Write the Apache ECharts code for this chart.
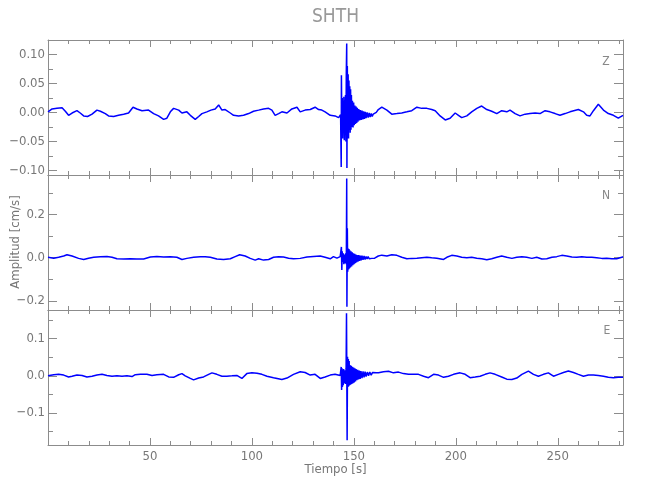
<!DOCTYPE html>
<html><head><meta charset="utf-8">
<script src="https://cdn.jsdelivr.net/npm/echarts@6/dist/echarts.min.js"></script>
<style>html,body{margin:0;padding:0;background:#fff}#c{width:650px;height:500px}</style>
</head><body><div id="c"></div>
<script>
// ---- Data ----
const zT = [0,2.0,4.4,6.9,8.5,10.1,11.8,14.2,15.8,17.5,19.4,21.6,24.0,25.7,28.1,29.7,32.2,34.6,37.1,39.5,41.7,43.6,46.1,49.3,51.8,54.2,56.7,58.3,60.0,61.6,64.1,65.7,68.1,69.8,72.2,73.9,75.5,77.9,79.9,82.0,83.7,85.3,86.9,89.4,91.0,93.5,95.9,98.4,100.8,103.3,105.7,108.2,109.8,111.4,113.1,114.7,117.2,119.6,122.1,123.7,126.1,128.6,131.0,132.7,134.3,135.9,138.4,140.8,142.5,143.5,
 143.8,143.9,144.1,144.3,144.5,144.7,144.9,145.1,145.3,145.5,145.7,145.9,146.1,146.3,146.5,146.6,146.8,147.0,147.2,147.4,147.6,147.8,148.0,148.2,148.4,148.6,148.8,149.0,149.3,149.6,149.9,150.2,150.5,150.8,151.1,151.4,151.7,152.0,152.4,152.8,153.2,153.6,154.0,154.4,154.8,155.2,155.6,156.0,156.5,157.0,157.5,158.0,158.5,159.0,159.5,160.0,161.0,162.0,
 163.7,166.2,168.6,171.1,173.5,176.0,178.4,180.9,183.3,185.8,188.2,189.9,192.3,194.8,197.2,199.7,201.3,202.9,205.4,207.8,210.3,212.7,215.2,217.6,220.1,222.5,225.0,226.6,229.1,231.5,234.0,236.4,238.9,241.3,243.8,246.2,248.7,251.1,253.6,256.0,260.1,262.6,264.2,265.8,267.5,269.9,272.4,274.8,277.3,279.7,282.0];
const zV = [0.001,0.006,0.007,0.008,0.002,-0.005,-0.001,0.003,-0.001,-0.006,-0.007,-0.003,0.004,0.002,-0.002,-0.006,-0.007,-0.005,-0.003,-0.001,0.009,0.006,0.003,0.004,-0.002,-0.006,-0.012,-0.010,0.001,0.007,0.004,-0.001,0.001,-0.005,-0.012,-0.007,-0.002,0.001,0.004,0.006,0.013,0.004,0.005,-0.001,-0.005,-0.006,-0.005,-0.002,0.002,0.004,0.006,0.007,0.004,-0.005,-0.002,0.001,-0.001,0.006,0.009,0.001,0.004,0.005,0.009,0.005,0.004,0.001,-0.005,-0.006,-0.009,-0.004,
 -0.094,0.064,-0.020,0.025,-0.045,0.020,-0.030,0.027,-0.048,0.020,-0.035,0.030,-0.050,0.070,0.119,-0.096,0.080,-0.040,0.066,-0.045,0.055,-0.030,0.045,-0.035,0.040,-0.030,0.030,-0.025,0.020,-0.026,0.017,-0.022,0.012,-0.020,0.010,-0.018,0.008,-0.016,0.006,-0.014,0.004,-0.013,0.003,-0.012,0.002,-0.011,0.001,-0.010,0.000,-0.009,-0.001,-0.008,-0.002,-0.007,-0.003,-0.004,0.000,0.005,
 0.009,0.004,-0.003,-0.002,-0.001,0.001,0.003,0.009,0.007,0.007,0.005,0.003,-0.006,-0.013,-0.010,-0.001,-0.005,-0.009,-0.006,0.001,0.007,0.011,0.005,0.002,-0.002,0.003,0.001,0.004,-0.002,-0.006,-0.003,-0.002,-0.001,-0.002,0.003,0.001,-0.002,-0.005,-0.002,0.001,0.005,0.001,-0.005,-0.006,0.003,0.014,0.004,-0.002,-0.005,-0.010,-0.005];

const nT = [0,2.8,5.2,7.7,9.3,11.8,15.0,17.5,19.9,22.4,25.7,28.9,31.4,33.8,37.1,40.4,43.6,46.9,50.2,53.4,56.7,60.0,63.2,65.7,68.1,71.4,74.7,77.1,79.6,82.8,86.1,89.4,91.8,94.0,96.7,99.2,101.6,103.3,105.7,108.2,110.6,113.1,115.5,118.0,120.4,123.7,127.0,130.2,133.5,135.9,138.4,140.0,141.7,143.3,
 143.6,143.9,144.1,144.3,144.5,144.8,145.1,145.4,145.7,146.0,146.3,146.5,146.6,146.8,147.0,147.2,147.4,147.6,147.8,148.0,148.3,148.6,148.9,149.2,149.5,149.8,150.1,150.4,150.7,151.0,151.3,151.6,152.0,152.4,152.8,153.2,153.6,154.0,154.5,155.0,155.5,156.0,156.5,157.0,157.6,158.2,158.8,159.5,160.2,161.0,162.0,163.7,
 166.2,168.6,171.1,173.5,176.0,178.4,180.9,183.3,185.8,188.2,190.7,194.0,195.6,198.0,200.5,202.9,205.4,207.8,210.3,212.7,215.2,217.6,220.1,222.5,225.0,227.5,229.9,232.4,234.8,237.3,239.7,242.2,244.6,247.1,249.5,252.0,254.4,256.9,259.3,261.8,264.2,266.7,269.1,271.6,274.0,276.5,278.9,281.4,282.0];
const nV = [0.002,-0.002,0.002,0.008,0.014,0.008,-0.003,-0.008,-0.002,0.002,0.005,0.006,0.002,-0.005,-0.006,-0.005,-0.006,-0.006,0.003,0.006,0.003,0.005,0.002,-0.008,-0.003,0.002,0.005,0.005,0.002,-0.006,-0.008,-0.005,0.005,0.014,0.008,-0.003,-0.011,-0.005,-0.011,-0.008,0.002,0.005,0.003,-0.002,-0.005,-0.003,0.003,0.006,0.008,0.002,-0.005,0.005,-0.002,0.005,
 0.002,0.050,-0.057,0.030,-0.020,0.020,-0.030,0.015,-0.025,0.020,-0.030,0.367,-0.227,0.136,-0.065,0.043,-0.055,0.040,-0.050,0.035,-0.045,0.030,-0.040,0.025,-0.035,0.020,-0.030,0.018,-0.025,0.015,-0.022,0.012,-0.018,0.012,-0.015,0.010,-0.012,0.010,-0.010,0.008,-0.008,0.006,-0.006,0.005,-0.005,0.004,-0.003,0.002,-0.002,0.004,0.008,0.012,
 0.008,0.014,0.011,0.002,-0.005,-0.003,-0.002,0.000,0.002,0.000,-0.002,-0.008,0.002,0.011,0.008,0.002,0.000,0.002,-0.002,-0.005,-0.009,-0.005,0.002,0.008,0.002,-0.003,0.002,0.005,0.002,-0.003,0.002,-0.006,-0.005,0.002,0.005,0.011,0.008,0.003,0.002,0.005,0.002,0.002,0.000,-0.003,-0.002,-0.005,-0.005,0.002,0.005];

const eT = [0,2.8,5.2,7.7,10.1,11.8,14.2,16.7,19.1,21.6,24.0,26.5,28.9,31.4,33.8,36.3,38.7,41.2,42.8,45.3,48.5,51.0,53.4,56.7,59.2,61.6,64.1,65.7,67.3,69.8,71.4,73.9,76.3,78.8,80.4,82.8,85.3,87.7,90.2,92.6,95.1,97.5,100.0,102.5,104.9,107.4,110.6,114.7,117.2,120.4,123.7,126.1,128.6,131.0,133.5,135.9,138.4,140.8,143.3,
 143.6,143.8,144.0,144.2,144.4,144.6,144.8,145.0,145.3,145.6,145.9,146.2,146.4,146.7,146.9,147.1,147.3,147.5,147.7,147.9,148.1,148.4,148.7,149.0,149.3,149.6,149.9,150.2,150.5,150.8,151.1,151.5,151.9,152.3,152.7,153.1,153.5,154.0,154.5,155.0,155.5,156.0,156.6,157.2,157.8,158.5,159.2,160.0,161.0,
 162.1,164.5,167.0,169.4,171.9,174.3,176.8,179.2,181.7,184.2,186.6,189.1,191.5,194.0,196.4,198.9,202.1,204.6,207.0,209.5,211.9,214.4,216.8,219.3,222.5,225.0,227.5,229.9,232.4,235.6,238.1,240.5,243.0,245.4,247.9,250.3,252.8,255.2,257.7,260.1,262.6,265.0,267.5,269.9,272.4,274.8,277.3,279.7,282.0];
const eV = [0.000,0.003,0.004,0.002,-0.003,-0.001,0.002,0.001,-0.003,-0.001,0.002,0.004,0.001,-0.001,0.000,-0.001,0.000,-0.002,0.003,0.004,0.004,0.001,0.003,0.004,-0.003,-0.004,0.003,0.006,0.000,-0.007,-0.011,-0.006,-0.003,0.004,0.008,0.004,-0.001,-0.001,0.000,0.001,-0.007,0.006,0.008,0.007,0.004,-0.001,-0.005,-0.010,-0.006,0.004,0.011,0.009,0.002,0.004,-0.007,-0.003,0.002,0.004,0.001,
 0.002,0.024,-0.038,0.020,-0.030,0.015,-0.025,0.018,-0.020,0.015,-0.022,0.020,0.168,-0.173,0.051,-0.030,0.045,-0.028,0.040,-0.025,0.029,-0.024,0.027,-0.022,0.024,-0.020,0.022,-0.018,0.020,-0.015,0.018,-0.012,0.016,-0.010,0.014,-0.008,0.013,-0.006,0.012,-0.004,0.011,-0.002,0.010,0.000,0.010,0.002,0.009,0.004,0.008,
 0.008,0.011,0.0125,0.008,0.010,0.006,0.004,0.004,0.004,-0.001,-0.005,0.004,0.002,-0.004,-0.001,0.004,0.008,0.004,-0.005,-0.003,-0.001,0.004,0.008,0.004,-0.003,-0.009,-0.010,-0.006,0.004,0.0125,0.004,-0.001,0.004,0.008,-0.001,0.004,0.009,0.013,0.009,0.004,-0.001,0.002,0.002,0.001,-0.001,-0.004,-0.005,-0.004,-0.004];

const panelNames = ['Z','N','E'];
const xMajor = [50,100,150,200,250];
const xMinor = [10,20,30,40,60,70,80,90,110,120,130,140,160,170,180,190,210,220,230,240,260,270,280];
const yRanges = [[-0.108,0.125],[-0.242,0.383],[-0.186,0.177]];
const yMajor = [[-0.1,-0.05,0,0.05,0.1],[-0.2,0,0.2],[-0.1,0,0.1]];
const yMinor = [[-0.075,-0.025,0.025,0.075],[-0.1,0.1,0.3],[-0.15,-0.05,0.05,0.15]];
const yDecimals = [2,1,1];

// ---- Build chart ----
const GRAY = '#8c8c8c';
const FONT = "'Liberation Sans Narrow','DejaVu Sans Condensed','Liberation Sans',sans-serif";
const tops = [40,175,310];
const grids = tops.map(t => ({left:48, top:t, width:575, height:135}));
const xAxes = [], yAxes = [], series = [];
const pairs = [[zT,zV],[nT,nV],[eT,eV]];
const lineOn = {show:true, onZero:false, lineStyle:{color:GRAY, width:1}};
const lineOff = {show:false, onZero:false};
for (let i=0;i<3;i++){
  const baseX = {gridIndex:i, type:'value', min:0, max:282, splitLine:{show:false}};
  xAxes.push(Object.assign({}, baseX, {position:'bottom', axisLine:lineOn,
    axisTick:{show:true, inside:true, length:7, customValues:xMajor, lineStyle:{color:GRAY}},
    axisLabel:{show:i===2, customValues:xMajor, color:'#777', fontFamily:FONT, fontSize:13, margin:5}}));
  xAxes.push(Object.assign({}, baseX, {position:'bottom', axisLine:lineOff,
    axisTick:{show:true, inside:true, length:4, customValues:xMinor, lineStyle:{color:GRAY}},
    axisLabel:{show:false}}));
  xAxes.push(Object.assign({}, baseX, {position:'top', axisLine:lineOn,
    axisTick:{show:true, inside:true, length:7, customValues:xMajor, lineStyle:{color:GRAY}},
    axisLabel:{show:false}}));
  xAxes.push(Object.assign({}, baseX, {position:'top', axisLine:lineOff,
    axisTick:{show:true, inside:true, length:4, customValues:xMinor, lineStyle:{color:GRAY}},
    axisLabel:{show:false}}));
  const baseY = {gridIndex:i, type:'value', min:yRanges[i][0], max:yRanges[i][1], splitLine:{show:false}};
  const dec = yDecimals[i];
  yAxes.push(Object.assign({}, baseY, {position:'left', axisLine:lineOn,
    axisTick:{show:true, inside:true, length:9, customValues:yMajor[i], lineStyle:{color:GRAY}},
    axisLabel:{show:true, customValues:yMajor[i], color:'#777', fontFamily:FONT, fontSize:13, margin:3,
      formatter: v => (Math.abs(v)<1e-9 ? 0 : v).toFixed(dec).replace('-','\u2212')}}));
  yAxes.push(Object.assign({}, baseY, {position:'left', axisLine:lineOff,
    axisTick:{show:true, inside:true, length:5, customValues:yMinor[i], lineStyle:{color:GRAY}},
    axisLabel:{show:false}}));
  yAxes.push(Object.assign({}, baseY, {position:'right', axisLine:lineOn,
    axisTick:{show:true, inside:true, length:9, customValues:yMajor[i], lineStyle:{color:GRAY}},
    axisLabel:{show:false}}));
  yAxes.push(Object.assign({}, baseY, {position:'right', axisLine:lineOff,
    axisTick:{show:true, inside:true, length:5, customValues:yMinor[i], lineStyle:{color:GRAY}},
    axisLabel:{show:false}}));
  const [T,V] = pairs[i];
  series.push({type:'line', name:panelNames[i], xAxisIndex:4*i, yAxisIndex:4*i,
    data:T.map((t,k)=>[t,V[k]]), showSymbol:false, symbol:'none', clip:true,
    lineStyle:{color:'#0000ff', width:1.5}, animation:false});
}
const labelPos = [[606,62],[606,196],[607,331]];
const graphics = [
  {type:'text', x:335.5, y:17, style:{text:'SHTH', fill:'#999', font:"19px "+FONT, textAlign:'center', textVerticalAlign:'middle'}},
  {type:'text', x:335.5, y:470, style:{text:'Tiempo [s]', fill:'#777', font:"13px "+FONT, textAlign:'center', textVerticalAlign:'middle'}},
  {type:'text', x:16, y:242, rotation:Math.PI/2, style:{text:'Amplitud [cm/s]', fill:'#777', font:"13px "+FONT, textAlign:'center', textVerticalAlign:'middle'}}
];
panelNames.forEach((n,i)=>graphics.push({type:'text', x:labelPos[i][0], y:labelPos[i][1],
  style:{text:n, fill:'#888', font:"12px "+FONT, textAlign:'center', textVerticalAlign:'middle'}}));

const chart = echarts.init(document.getElementById('c'), null, {renderer:'canvas'});
chart.setOption({animation:false, backgroundColor:'#fff', grid:grids, xAxis:xAxes, yAxis:yAxes, series:series, graphic:graphics});
</script></body></html>
